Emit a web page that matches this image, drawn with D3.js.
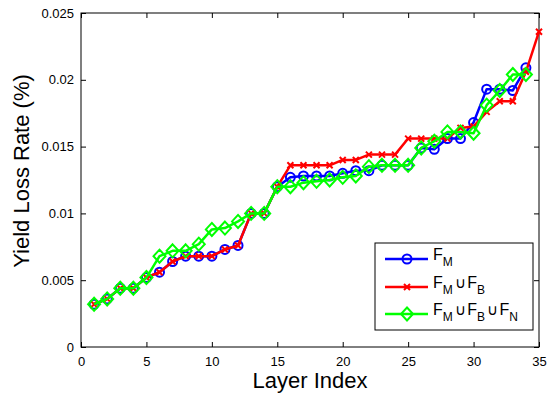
<!DOCTYPE html>
<html>
<head>
<meta charset="utf-8">
<script src="https://cdn.jsdelivr.net/npm/d3@7"></script>
<style>
  body { margin: 0; background: #fff; }
  text { font-family: "Liberation Sans", Arial, Helvetica, sans-serif; }
</style>
</head>
<body>
<div id="chart"></div>
<script>
// layer index (x) and yield loss rate per layer for the three fault sets
var layerIdx = [1,2,3,4,5,6,7,8,9,10,11,12,13,14,15,16,17,18,19,20,21,22,23,24,25,26,27,28,29,30,31,32,33,34,35];

var yieldFM = [0.0032,0.0036,0.0044,0.0044,0.0052,0.0056,0.0064,0.0068,0.0068,0.0068,
               0.0073,0.0076,0.0100,0.0100,0.0120,0.0127,0.0128,0.0128,0.0128,0.0130,
               0.0132,0.0132,0.0136,0.0136,0.0136,0.0149,0.0148,0.0156,0.0156,0.0168,
               0.0193,0.0193,0.0192,0.0209];

var yieldFMB = [0.0032,0.0036,0.0044,0.0044,0.0052,0.0056,0.0064,0.0068,0.0068,0.0068,
                0.0073,0.0076,0.0100,0.0100,0.0120,0.0136,0.0136,0.0136,0.0136,0.0140,
                0.0140,0.0144,0.0144,0.0144,0.0156,0.0156,0.0156,0.0156,0.0164,0.0165,
                0.0176,0.0184,0.0184,0.0206,0.0236];

var yieldFMBN = [0.0032,0.0036,0.0044,0.0044,0.0052,0.0068,0.0072,0.0072,0.0077,0.0088,
                 0.0089,0.0094,0.0100,0.0100,0.0120,0.0120,0.0123,0.0124,0.0125,0.0127,
                 0.0128,0.0135,0.0136,0.0136,0.0136,0.0149,0.0154,0.0161,0.0161,0.0160,
                 0.0181,0.0192,0.0204,0.0204];

var xTicks = [0,5,10,15,20,25,30,35];
var yTicks = [0,0.005,0.01,0.015,0.02,0.025];
var yTickLabels = ["0","0.005","0.01","0.015","0.02","0.025"];

// legend entries: each is a list of [letter, subscript] joined by a union sign
var legendLabels = [
  [["F","M"]],
  [["F","M"],["F","B"]],
  [["F","M"],["F","B"],["F","N"]]
];

var width = 548, height = 396;
var plot = {left: 81, right: 539, top: 13, bottom: 347};

var svg = d3.select("#chart").append("svg")
    .attr("width", width)
    .attr("height", height);

var x = d3.scaleLinear().domain([0, 35]).range([plot.left, plot.right]);
var y = d3.scaleLinear().domain([0, 0.025]).range([plot.bottom, plot.top]);

var tickLen = 5;

// axes, ticks pointing inward like matlab
svg.append("g")
    .attr("transform", "translate(0," + plot.bottom + ")")
    .call(d3.axisBottom(x).tickValues(xTicks).tickSizeInner(-tickLen).tickSizeOuter(0).tickPadding(10))
    .call(styleAxis);

svg.append("g")
    .attr("transform", "translate(" + plot.left + ",0)")
    .call(d3.axisLeft(y).tickValues(yTicks).tickSizeInner(-tickLen).tickSizeOuter(0).tickPadding(7)
      .tickFormat(function(d, i) { return yTickLabels[i]; }))
    .call(styleAxis);

svg.append("g")
    .attr("transform", "translate(0," + plot.top + ")")
    .call(d3.axisTop(x).tickValues(xTicks).tickSizeInner(-tickLen).tickSizeOuter(0).tickFormat(""))
    .call(styleAxis);

svg.append("g")
    .attr("transform", "translate(" + plot.right + ",0)")
    .call(d3.axisRight(y).tickValues(yTicks).tickSizeInner(-tickLen).tickSizeOuter(0).tickFormat(""))
    .call(styleAxis);

function styleAxis(g) {
  g.select(".domain").remove();
  g.selectAll("line").attr("stroke", "#000").attr("stroke-width", 1);
  g.selectAll("text").attr("fill", "#000").style("font-size", "13px")
    .style("font-family", "'Liberation Sans', Arial, sans-serif");
}

// frame
svg.append("rect")
    .attr("x", plot.left)
    .attr("y", plot.top)
    .attr("width", plot.right - plot.left)
    .attr("height", plot.bottom - plot.top)
    .attr("fill", "none")
    .attr("stroke", "#000")
    .attr("stroke-width", 1);

var series = [
  {name: "fm",   color: "#0000ff", marker: "circle",  values: yieldFM},
  {name: "fmb",  color: "#ff0000", marker: "cross",   values: yieldFMB},
  {name: "fmbn", color: "#00ff00", marker: "diamond", values: yieldFMBN}
];

var line = d3.line()
    .x(function(d) { return x(d.i); })
    .y(function(d) { return y(d.v); });

function drawMarker(sel, type, color) {
  if (type == "circle") {
    sel.append("circle").attr("r", 4.5)
      .attr("fill", "none").attr("stroke", color).attr("stroke-width", 2);
  } else if (type == "cross") {
    sel.append("path").attr("d", "M-3,-3L3,3M-3,3L3,-3")
      .attr("fill", "none").attr("stroke", color).attr("stroke-width", 2);
  } else {
    sel.append("path").attr("d", "M0,-6.5L6,0L0,6.5L-6,0Z")
      .attr("fill", "none").attr("stroke", color).attr("stroke-width", 2);
  }
}

series.forEach(function(s) {
  var pts = s.values.map(function(v, k) { return {i: layerIdx[k], v: v}; });
  var g = svg.append("g").attr("class", "series " + s.name);

  g.append("path")
    .datum(pts)
    .attr("d", line)
    .attr("fill", "none")
    .attr("stroke", s.color)
    .attr("stroke-width", 2.5)
    .attr("stroke-linejoin", "round");

  g.selectAll("g.mk")
    .data(pts)
    .enter().append("g")
      .attr("class", "mk")
      .attr("transform", function(d) { return "translate(" + x(d.i) + "," + y(d.v) + ")"; })
      .each(function() { drawMarker(d3.select(this), s.marker, s.color); });
});

// axis titles
svg.append("text")
    .attr("x", (plot.left + plot.right) / 2)
    .attr("y", 388)
    .attr("text-anchor", "middle")
    .style("font-size", "22px")
    .text("Layer Index");

svg.append("text")
    .attr("transform", "translate(29,171) rotate(-90)")
    .attr("text-anchor", "middle")
    .style("font-size", "22px")
    .text("Yield Loss Rate (%)");

// legend
var legend = svg.append("g").attr("class", "legend");
legend.append("rect")
    .attr("x", 375).attr("y", 243)
    .attr("width", 158).attr("height", 87)
    .attr("fill", "#fff")
    .attr("stroke", "#000")
    .attr("stroke-width", 1);

var rowY = [259, 287, 314];

series.forEach(function(s, k) {
  var row = legend.append("g").attr("transform", "translate(0," + rowY[k] + ")");
  row.append("line")
    .attr("x1", 385).attr("x2", 428)
    .attr("stroke", s.color).attr("stroke-width", 2.5);
  var mk = row.append("g").attr("transform", "translate(407,0)");
  drawMarker(mk, s.marker, s.color);

  var t = row.append("text").attr("x", 433).attr("y", 1).style("font-size", "16px");
  legendLabels[k].forEach(function(p, j) {
    if (j > 0) {
      // back up from the subscript onto the main baseline
      t.append("tspan").attr("dx", 2).attr("dy", -6).style("font-size", "15px").text("\u222A");
    }
    t.append("tspan").attr("dx", j > 0 ? 1.5 : 0).text(p[0]);
    t.append("tspan").attr("dy", 6).style("font-size", "12px").text(p[1]);
  });
});
</script>
</body>
</html>
